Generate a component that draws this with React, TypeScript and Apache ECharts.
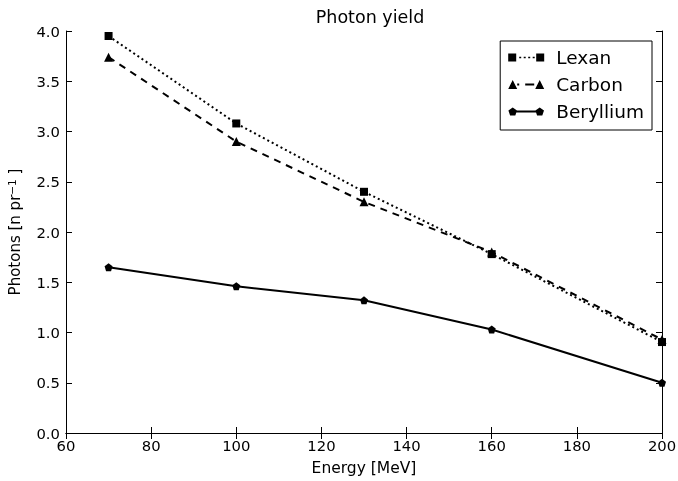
import React, { useEffect, useRef } from "react";
import * as echarts from "echarts";

const energies = [70, 100, 130, 160, 200];
const lexan = [3.95, 3.08, 2.4, 1.78, 0.905];
const carbon = [3.74, 2.9, 2.3, 1.8, 0.93];
const beryllium = [1.65, 1.46, 1.32, 1.03, 0.5];
const FONT = "DejaVu Sans";
const PENTAGON = "path://M0,-1 L0.951,-0.309 L0.588,0.809 L-0.588,0.809 L-0.951,-0.309 Z";

// legend icons (matplotlib style: marker at both ends, line style between), box 0..36 x 0..9
const ICON_LEXAN =
  "path://M0,0.5 L8,0.5 L8,8.5 L0,8.5 Z M28,0.5 L36,0.5 L36,8.5 L28,8.5 Z " +
  "M11,3.7 L13,3.7 L13,5.3 L11,5.3 Z M15.5,3.7 L17.5,3.7 L17.5,5.3 L15.5,5.3 Z " +
  "M20,3.7 L22,3.7 L22,5.3 L20,5.3 Z M24.5,3.7 L26.5,3.7 L26.5,5.3 L24.5,5.3 Z M0,0 L0.01,0 L0.01,9 L0,9 Z M36,0 L36.01,0 L36.01,9 L36,9 Z";
const ICON_CARBON =
  "path://M0,9 L4.5,0 L9,9 Z M27,9 L31.5,0 L36,9 Z M9,3.6 L11,3.6 L11,5.4 L9,5.4 Z M17,3.6 L26,3.6 L26,5.4 L17,5.4 Z";
const ICON_BERYL =
  "path://M4.5,0.5 L8.8,3.6 L7.1,8.6 L1.9,8.6 L0.2,3.6 Z M31.5,0.5 L35.8,3.6 L34.1,8.6 L28.9,8.6 L27.2,3.6 Z M8,3.6 L28,3.6 L28,5.4 L8,5.4 Z M0,0 L0.01,0 L0.01,9 L0,9 Z M36,0 L36.01,0 L36.01,9 L36,9 Z";

const pairs = (ys: number[]) => energies.map((x, i) => [x, ys[i]]);

export default function App() {
  const ref = useRef<HTMLDivElement>(null);
  useEffect(() => {
    const chart = echarts.init(ref.current!, null, { renderer: "svg" });
    const axisCommon = {
      axisLine: { show: true, lineStyle: { color: "#000", width: 1 } },
      axisTick: { show: true, inside: true, length: 6, lineStyle: { color: "#000" } },
      splitLine: { show: false },
    };
    const xBase = { type: "value", min: 60, max: 200, interval: 20, ...axisCommon };
    const yBase = { type: "value", min: 0, max: 4, interval: 0.5, ...axisCommon };
    chart.setOption({
      animation: false,
      textStyle: { fontFamily: FONT },
      title: {
        text: "Photon yield",
        left: 365,
        textAlign: "center",
        top: 3,
        textStyle: { fontFamily: FONT, fontSize: 17.5, fontWeight: "normal", color: "#000" },
      },
      grid: { left: 66, right: 16, top: 31, bottom: 48, containLabel: false, outerBoundsMode: "none" },
      legend: {
        orient: "vertical",
        right: 26,
        top: 41,
        padding: [7, 8, 9, 8],
        borderColor: "#000",
        borderWidth: 1,
        itemWidth: 36,
        itemHeight: 9,
        itemGap: 8,
        textStyle: { fontFamily: FONT, fontSize: 18.5, color: "#000", padding: [0, 0, 0, 7] },
        data: [
          { name: "Lexan", icon: ICON_LEXAN },
          { name: "Carbon", icon: ICON_CARBON },
          { name: "Beryllium", icon: ICON_BERYL },
        ],
      },
      xAxis: [
        {
          ...xBase,
          position: "bottom",
          name: "Energy [MeV]",
          nameLocation: "middle",
          nameGap: 27,
          nameTextStyle: { fontFamily: FONT, fontSize: 15.5, color: "#000" },
          axisLabel: { fontFamily: FONT, fontSize: 14.8, color: "#000", margin: 5 },
        },
        { ...xBase, position: "top", axisLabel: { show: false } },
      ],
      yAxis: [
        {
          ...yBase,
          position: "left",
          name: "{a|Photons [n pr}{s|−1}{a| ]}",
          nameLocation: "middle",
          nameGap: 42,
          nameTextStyle: {
            rich: {
              a: { fontFamily: FONT, fontSize: 15, color: "#000" },
              s: { fontFamily: FONT, fontSize: 10.5, color: "#000", verticalAlign: "top", padding: [0, 0, 7, 0] },
            },
          },
          axisLabel: {
            fontFamily: FONT,
            fontSize: 14.8,
            color: "#000",
            margin: 6,
            formatter: (v: number) => v.toFixed(1),
          },
        },
        { ...yBase, position: "right", axisLabel: { show: false } },
      ],
      series: [
        {
          name: "Lexan",
          type: "line",
          data: pairs(lexan),
          symbol: "rect",
          symbolSize: 8,
          itemStyle: { color: "#000" },
          lineStyle: { color: "#000", width: 2, type: [2, 3] },
        },
        {
          name: "Carbon",
          type: "line",
          data: pairs(carbon),
          symbol: "triangle",
          symbolSize: 9,
          itemStyle: { color: "#000" },
          lineStyle: { color: "#000", width: 2, type: [7, 6] },
        },
        {
          name: "Beryllium",
          type: "line",
          data: pairs(beryllium),
          symbol: PENTAGON,
          symbolSize: 8,
          itemStyle: { color: "#000" },
          lineStyle: { color: "#000", width: 2 },
        },
      ],
    });
    return () => chart.dispose();
  }, []);
  return <div ref={ref} style={{ position: "fixed", left: 0, top: 0, width: 678, height: 481 }} />;
}
